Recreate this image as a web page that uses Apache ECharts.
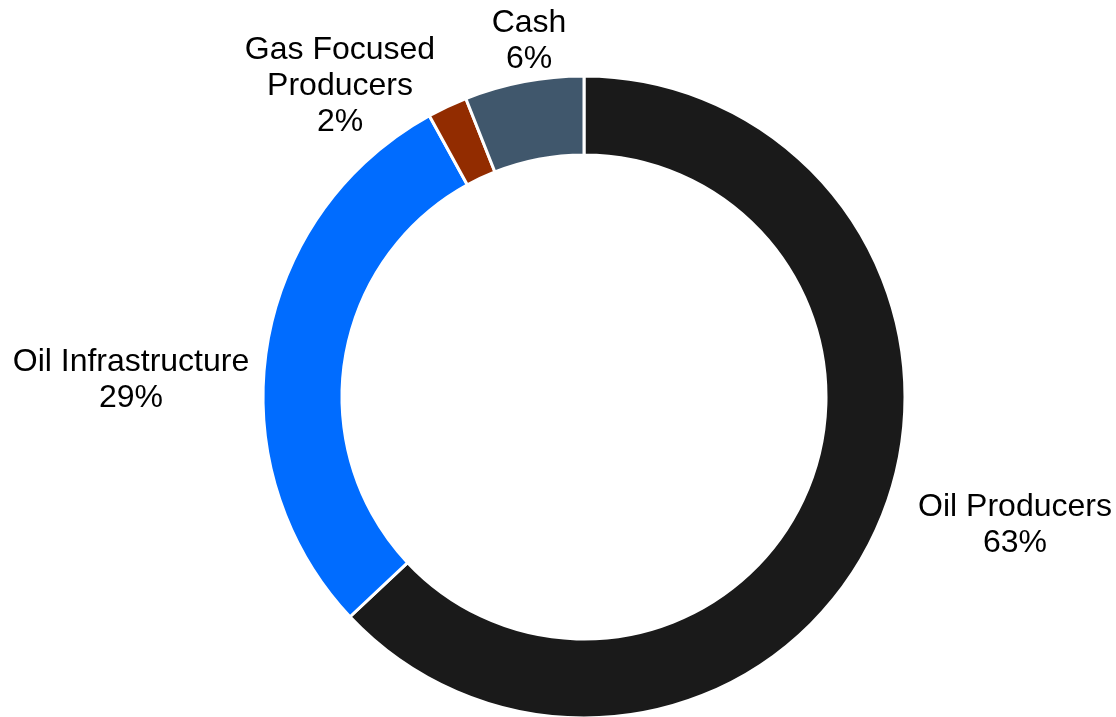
<!DOCTYPE html>
<html>
<head>
<meta charset="utf-8">
<script src="https://cdn.jsdelivr.net/npm/echarts@6/dist/echarts.min.js"></script>
<style>
  html, body { margin: 0; padding: 0; background: #fff; }
  #chart { width: 1116px; height: 717px; }
</style>
</head>
<body>
<div id="chart"></div>
<script>
const categories = ["Oil Producers", "Oil Infrastructure", "Gas Focused\nProducers", "Cash"]
const values = [63, 29, 2, 6]
const colors = ["#1a1a1a", "#006cff", "#922c00", "#40576c"]
// label centres (text only)
const labelPos = [
  { x: 1015, y: 525 },
  { x: 131, y: 380 },
  { x: 340, y: 86 },
  { x: 529, y: 41 }
]

const chart = echarts.init(document.getElementById("chart"))

const option = {
  backgroundColor: "#fff",
  animation: false,
  series: [
    {
      type: "pie",
      center: [584, 397],
      radius: [242, 321],
      startAngle: 90,
      clockwise: true,
      itemStyle: {
        borderColor: "#fff",
        borderWidth: 3
      },
      label: {
        show: true,
        position: "outside",
        formatter: "{b}\n{c}%",
        fontFamily: "Liberation Sans, Arial, sans-serif",
        fontSize: 32,
        lineHeight: 36,
        color: "#000",
        align: "center",
        overflow: "none"
      },
      labelLine: { show: false },
      labelLayout: function (params) {
        const p = labelPos[params.dataIndex]
        return {
          x: p.x,
          y: p.y,
          align: "center",
          verticalAlign: "middle"
        }
      },
      emphasis: { disabled: true },
      data: categories.map(function (name, i) {
        return { name: name, value: values[i], itemStyle: { color: colors[i] } }
      })
    }
  ]
}

chart.setOption(option)
</script>
</body>
</html>
